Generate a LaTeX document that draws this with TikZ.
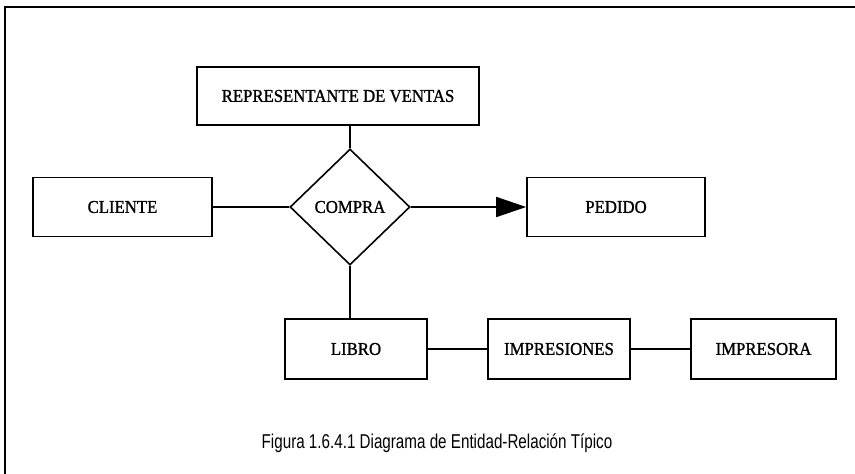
\documentclass[tikz,border=0pt]{standalone}
\usepackage{fontspec}
\usepackage{graphicx}
\setmainfont{Liberation Serif}[FakeBold=1.2]
\newfontfamily\capfont{Liberation Sans}
\usetikzlibrary{shapes.geometric,arrows.meta}
\tikzset{
  ent/.style={draw, line width=1.6pt, font=\fontsize{18}{20}\selectfont, inner sep=0pt},
  rel/.style={draw, diamond, line width=1.6pt, font=\fontsize{18}{20}\selectfont, inner sep=0pt, minimum width=120pt, minimum height=116pt},
  conn/.style={line width=1.6pt}
}
\newcommand{\sq}[1]{\scalebox{0.93}[1]{#1}}
\begin{document}
\begin{tikzpicture}[x=1pt,y=-1pt]
\useasboundingbox (0,0) rectangle (855,474);
\fill[white] (0,0) rectangle (855,474);
\coordinate (ftl) at (5,7);
\coordinate (ftr) at (855,7);
\coordinate (fbl) at (5,474);
\draw[line width=1.5pt] (ftr) -- (ftl) -- (fbl);
\node[ent, minimum width=282pt, minimum height=58pt] (rep) at (338,96) {\sq{REPRESENTANTE DE VENTAS}};
\node[rel] (compra) at (350,207) {\sq{COMPRA}};
\node[ent, minimum width=179pt, minimum height=59pt] (cliente) at (122.5,207) {\sq{CLIENTE}};
\node[ent, minimum width=178pt, minimum height=59pt] (pedido) at (616,207) {\sq{PEDIDO}};
\node[ent, minimum width=142pt, minimum height=60pt] (libro) at (356,349) {\sq{LIBRO}};
\node[ent, minimum width=142pt, minimum height=60pt] (impresiones) at (559,349) {\sq{IMPRESIONES}};
\node[ent, minimum width=145pt, minimum height=60pt] (impresora) at (763.5,349) {\sq{IMPRESORA}};
\node[font=\capfont\fontsize{20}{22}\selectfont] (cap) at (437,443) {\scalebox{0.76}[1]{Figura 1.6.4.1 Diagrama de Entidad-Relación Típico}};
\draw[conn] (compra.north) -- (compra.north |- rep.south);
\draw[conn] (cliente.east) -- (compra.west);
\draw[conn, -{Triangle[length=30pt,width=20pt]}] (compra.east) -- (pedido.west);
\draw[conn] (compra.south) -- (compra.south |- libro.north);
\draw[conn] (libro.east) -- (impresiones.west);
\draw[conn] (impresiones.east) -- (impresora.west);
\end{tikzpicture}
\end{document}
